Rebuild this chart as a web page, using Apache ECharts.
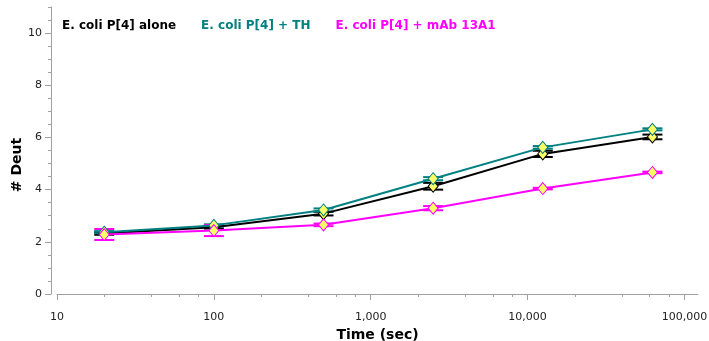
<!DOCTYPE html>
<html>
<head>
<meta charset="utf-8">
<script src="https://cdn.jsdelivr.net/npm/echarts@6/dist/echarts.min.js"></script>
<style>
  html, body { margin: 0; padding: 0; background: #fff; }
  #chart { width: 709px; height: 341px; }
</style>
</head>
<body>
<div id="chart"></div>
<script>
// exchange times (sec)
const times = [20, 100, 500, 2500, 12500, 62500];

const aloneVals = [2.32, 2.56, 3.08, 4.13, 5.37, 6.02];
const aloneErr = [0.05, 0.05, 0.07, 0.13, 0.12, 0.09];

const thVals = [2.37, 2.63, 3.22, 4.42, 5.62, 6.31];
const thErr = [0.04, 0.04, 0.06, 0.06, 0.05, 0.04];

const mabVals = [2.28, 2.43, 2.65, 3.29, 4.04, 4.66];
const mabErr = [0.21, 0.21, 0.05, 0.08, 0.03, 0.03];

const xMajorTicks = [10, 100, 1000, 10000, 100000];
const xMinorTicks = [20, 40, 60, 80, 200, 400, 600, 800, 2000, 4000, 6000, 8000,
  20000, 40000, 60000, 80000];
const yMajorTicks = [0, 2, 4, 6, 8, 10];

const names = ["E. coli P[4] alone", "E. coli P[4] + TH", "E. coli P[4] + mAb 13A1"];
const colors = ["#000000", "#008080", "#ff00ff"];

const FONT = "DejaVu Sans";
const AXIS_GRAY = "#a0a0a0";

function errorBars(color) {
  return function (params, api) {
    const x = api.value(0);
    const y = api.value(1);
    const e = api.value(2);
    const hi = api.coord([x, y + e]);
    const lo = api.coord([x, y - e]);
    const w = 10;
    const style = { stroke: color, lineWidth: 2 };
    return {
      type: "group",
      children: [
        { type: "line", shape: { x1: hi[0], y1: hi[1], x2: lo[0], y2: lo[1] }, style: style },
        { type: "line", shape: { x1: hi[0] - w, y1: hi[1], x2: hi[0] + w, y2: hi[1] }, style: style },
        { type: "line", shape: { x1: lo[0] - w, y1: lo[1], x2: lo[0] + w, y2: lo[1] }, style: style }
      ]
    };
  };
}

function makeSeries(i, vals, errs) {
  return [
    {
      name: names[i] + " err",
      type: "custom",
      renderItem: errorBars(colors[i]),
      encode: { x: 0, y: 1 },
      data: times.map((t, k) => [t, vals[k], errs[k]]),
      z: 2
    },
    {
      name: names[i],
      type: "line",
      data: times.map((t, k) => [t, vals[k]]),
      symbol: "diamond",
      symbolSize: [10, 12],
      lineStyle: { color: colors[i], width: 2 },
      itemStyle: { color: "#ffff66", borderColor: colors[i], borderWidth: 1 },
      emphasis: { disabled: true },
      z: 3
    }
  ];
}

const chart = echarts.init(document.getElementById("chart"));

chart.setOption({
  animation: false,
  backgroundColor: "#ffffff",
  textStyle: { fontFamily: FONT },
  grid: { left: 57, right: 11, top: 7, bottom: 47, outerBoundsMode: "none", containLabel: false },
  legend: {
    data: names.map((n, i) => ({ name: n, textStyle: { color: colors[i] } })),
    left: 52,
    top: 14,
    icon: "none",
    itemWidth: 0,
    itemHeight: 14,
    itemGap: 20,
    selectedMode: false,
    textStyle: { fontFamily: FONT, fontWeight: "bold", fontSize: 12 }
  },
  xAxis: [
    {
      type: "log",
      logBase: 10,
      min: 10,
      max: 122000,
      position: "bottom",
      offset: 7,
      name: "Time (sec)",
      nameLocation: "middle",
      nameGap: 25,
      nameTextStyle: { fontFamily: FONT, fontWeight: "bold", fontSize: 14, color: "#000" },
      axisLine: { lineStyle: { color: AXIS_GRAY, width: 1 } },
      axisTick: { customValues: xMajorTicks, length: 6, lineStyle: { color: AXIS_GRAY } },
      axisLabel: {
        customValues: xMajorTicks,
        color: "#222",
        fontSize: 11,
        margin: 11,
        formatter: v => Math.round(v).toLocaleString("en-US")
      },
      splitLine: { show: false }
    },
    {
      type: "log",
      logBase: 10,
      min: 10,
      max: 122000,
      position: "bottom",
      offset: 7,
      axisLine: { show: false },
      axisTick: { customValues: xMinorTicks, length: 3, lineStyle: { color: AXIS_GRAY } },
      axisLabel: { show: false },
      splitLine: { show: false }
    }
  ],
  yAxis: [
    {
      type: "value",
      min: 0,
      max: 11,
      interval: 2,
      position: "left",
      offset: 6,
      axisLine: { show: true, lineStyle: { color: AXIS_GRAY, width: 1 } },
      axisTick: { show: true, customValues: yMajorTicks, length: 6, lineStyle: { color: AXIS_GRAY } },
      axisLabel: { customValues: yMajorTicks, color: "#222", fontSize: 11, margin: 9 },
      splitLine: { show: false }
    },
    {
      type: "value",
      min: 0,
      max: 11,
      interval: 0.5,
      position: "left",
      offset: 6,
      axisLine: { show: false },
      axisTick: { show: true, length: 3, lineStyle: { color: AXIS_GRAY } },
      axisLabel: { show: false },
      splitLine: { show: false }
    }
  ],
  graphic: [
    {
      type: "text",
      x: 17,
      y: 165,
      rotation: Math.PI / 2,
      style: {
        text: "# Deut",
        font: "bold 14px 'DejaVu Sans'",
        fill: "#000",
        align: "center",
        verticalAlign: "middle"
      }
    }
  ],
  series: [].concat(
    makeSeries(0, aloneVals, aloneErr),
    makeSeries(1, thVals, thErr),
    makeSeries(2, mabVals, mabErr)
  )
});
</script>
</body>
</html>
